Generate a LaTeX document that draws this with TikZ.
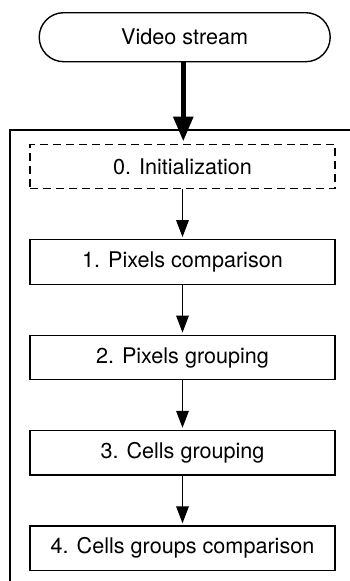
\documentclass[tikz,border=0pt]{standalone}
\usepackage{fontspec}
\setmainfont{TeX Gyre Heros}
\usetikzlibrary{arrows.meta,shapes.misc}

\tikzset{
  stagebox/.style={draw, line width=1.4pt, minimum width=305pt, minimum height=44.5pt,
    inner sep=0pt, font=\fontsize{21.6}{26}\selectfont},
  initbox/.style={stagebox, dash pattern=on 8pt off 5pt},
  source/.style={draw, line width=1.4pt, rounded rectangle, minimum width=291pt,
    minimum height=49pt, inner sep=0pt, font=\fontsize{21.6}{26}\selectfont},
  flow/.style={line width=1.2pt, -{Triangle[length=17pt,width=12.7pt]}, shorten >=2pt},
  mainflow/.style={line width=5.5pt, -{Triangle[length=25pt,width=19pt]}, shorten >=2pt},
  frame/.style={draw, line width=1.4pt}
}

\begin{document}
\begin{tikzpicture}[x=1pt,y=-1pt]
  \useasboundingbox (0,0) rectangle (350,581);
  \clip (0,0) rectangle (350,581);

  % processing block enclosing the stages
  \draw[frame] (10,130) rectangle (380,620);

  \node[source] (video) at (184.7,37.2) {Video stream};

  \node[initbox]  (s0) at (182.5,166.5) {0. Initialization};
  \node[stagebox] (s1) at (182.5,262.0) {1. Pixels comparison};
  \node[stagebox] (s2) at (182.5,357.5) {2. Pixels grouping};
  \node[stagebox] (s3) at (182.5,452.7) {3. Cells grouping};
  \node[stagebox] (s4) at (182.5,548.2) {4. Cells groups comparison};

  \draw[mainflow] (video.south -| 183.3,0) -- (s0.north -| 183.3,0);
  \draw[flow] (s0) -- (s1);
  \draw[flow] (s1) -- (s2);
  \draw[flow] (s2) -- (s3);
  \draw[flow] (s3) -- (s4);
\end{tikzpicture}
\end{document}
